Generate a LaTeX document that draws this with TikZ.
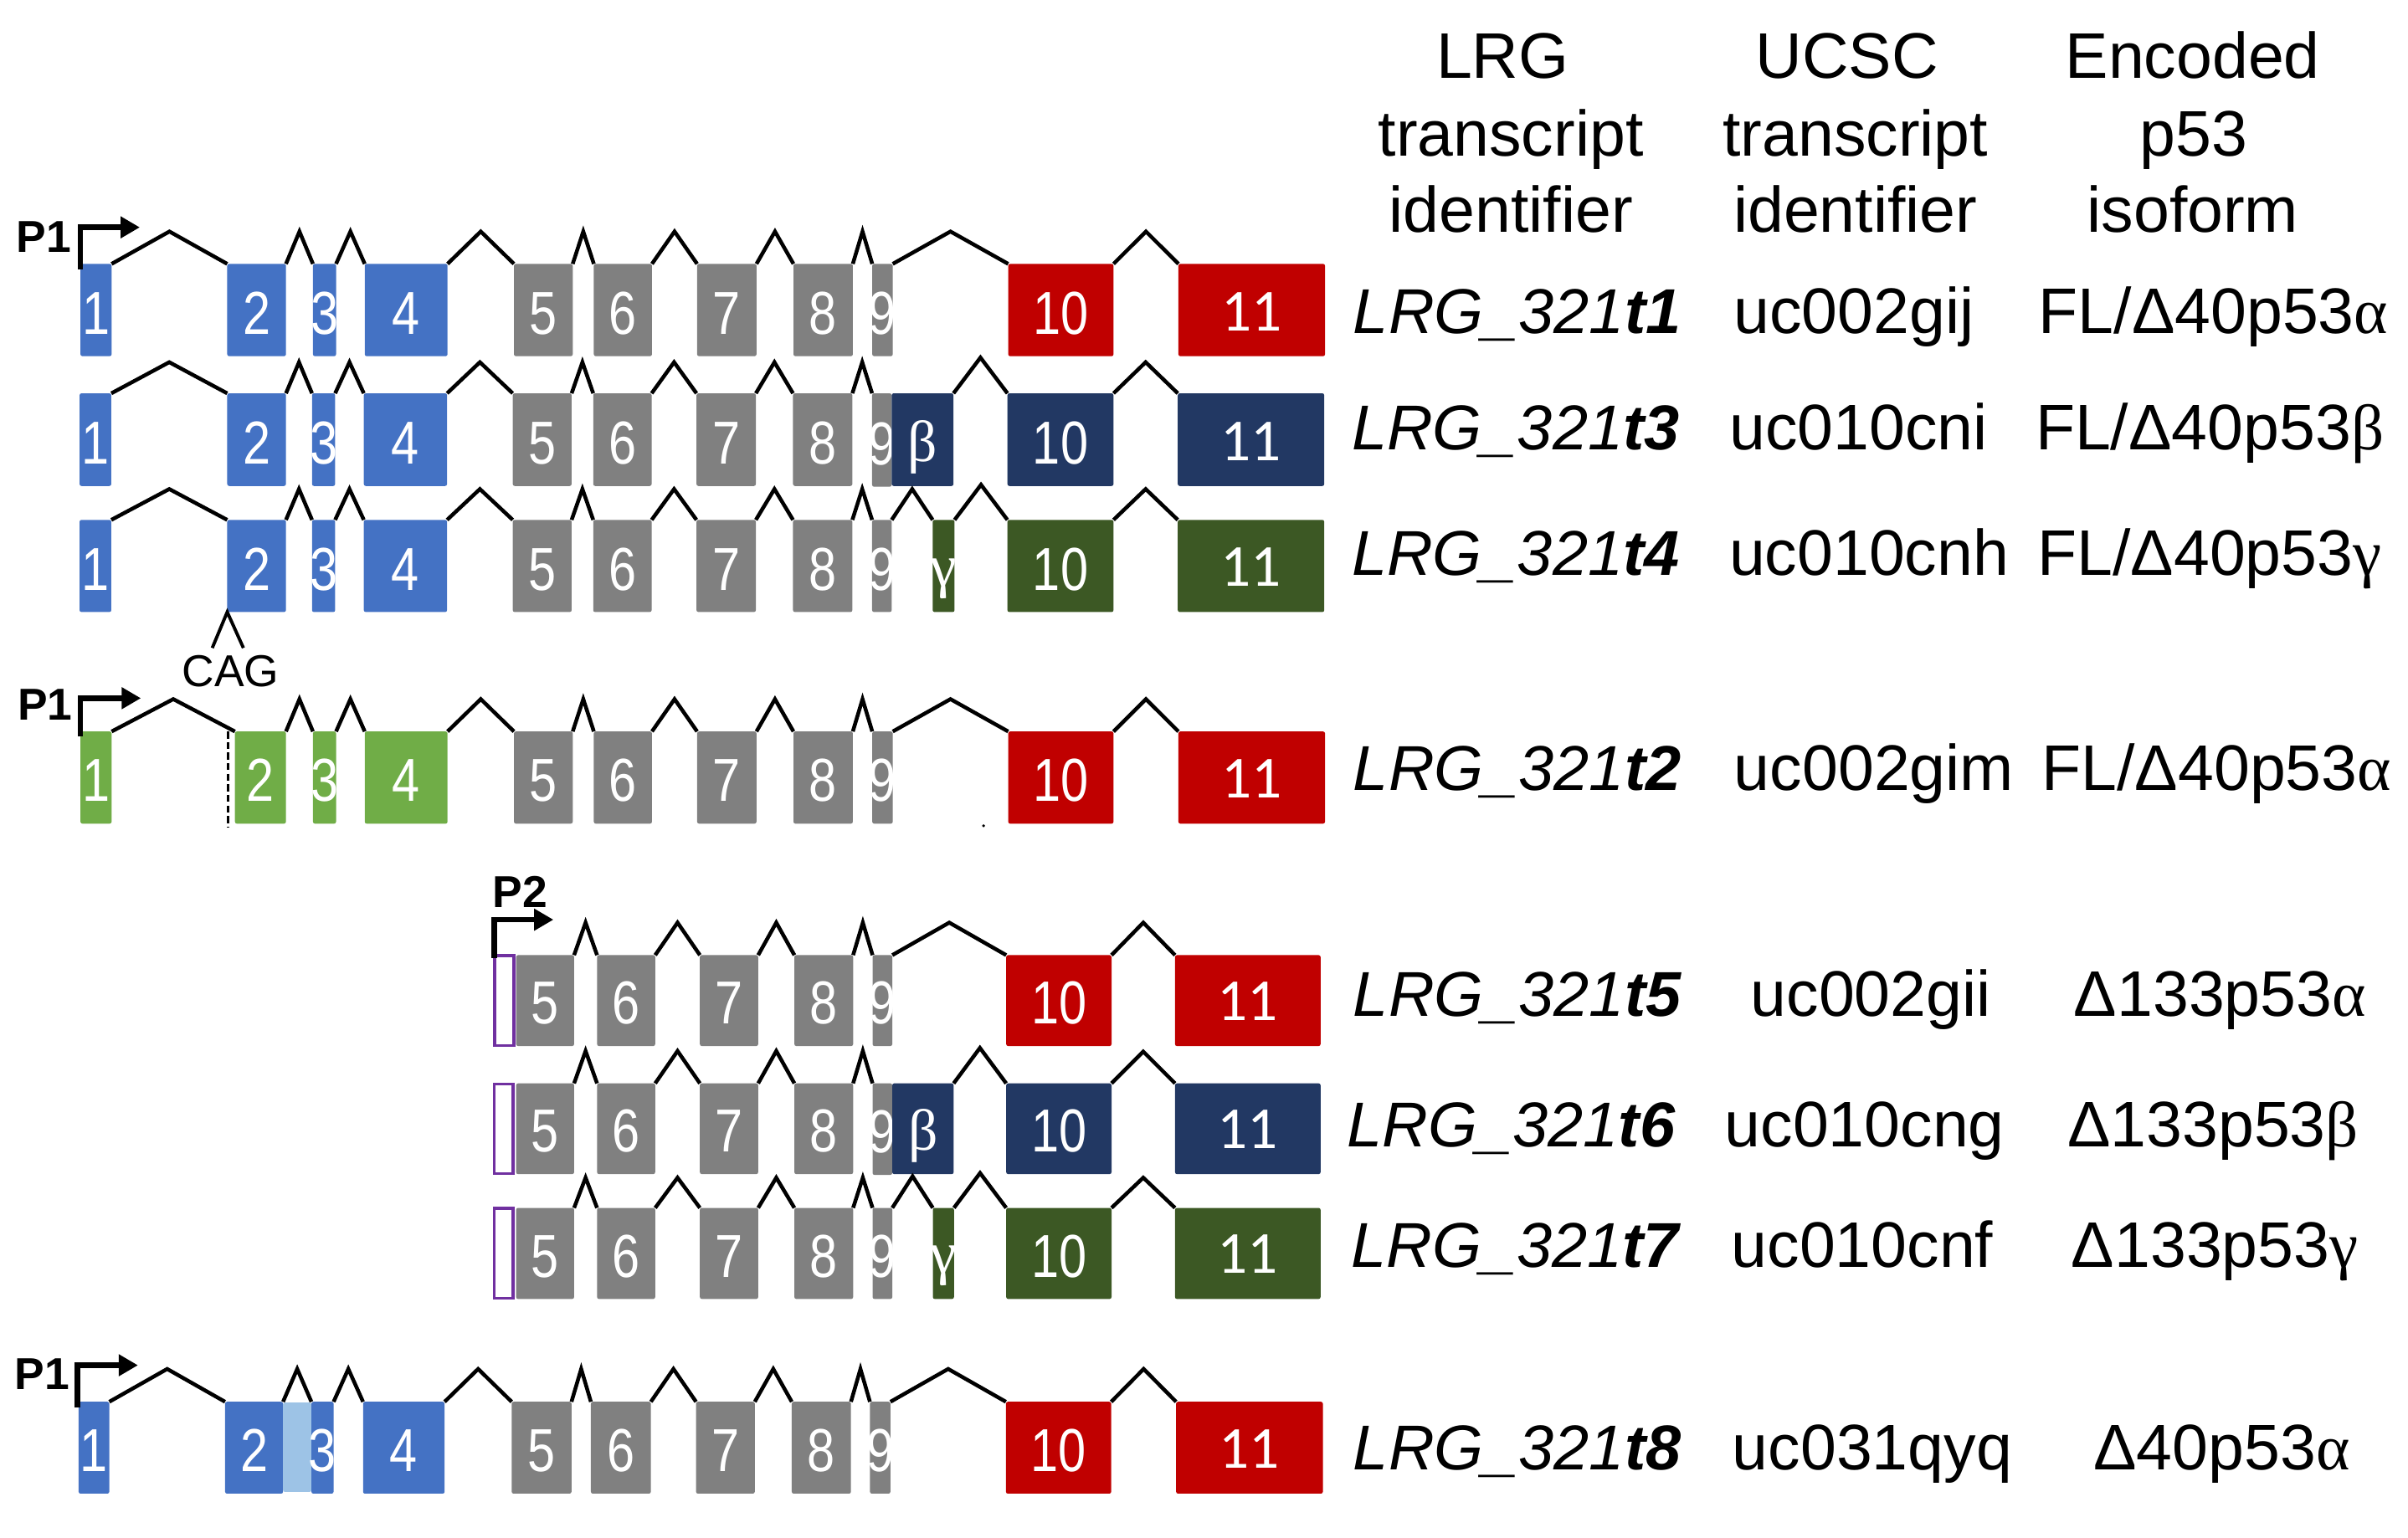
\documentclass[tikz,border=0pt]{standalone}
\usepackage{fontspec}
\setmainfont{Liberation Sans}
\newfontfamily\grk{Liberation Serif}
\newfontfamily\calib{Carlito}
\usepackage{graphicx}
\usetikzlibrary{calc,arrows.meta}
\definecolor{exblue}{HTML}{4472C4}
\definecolor{exgray}{HTML}{808080}
\definecolor{exred}{HTML}{C00000}
\definecolor{exnavy}{HTML}{223863}
\definecolor{exdkgreen}{HTML}{3C5824}
\definecolor{exltgreen}{HTML}{70AD47}
\definecolor{exltblue}{HTML}{9DC3E6}
\definecolor{p2purple}{HTML}{7030A0}
\newcommand\dg[1]{\scalebox{0.82}[1]{\fontsize{22.4}{24}\selectfont #1}}
\newcommand\elv{\raisebox{0.46mm}{\calib\fontsize{22}{24}\selectfont 11}}
\newcommand\gbeta{\raisebox{0.3mm}{\grk\fontsize{21.5}{24}\selectfont β}}
\newcommand\ggam{\raisebox{0.5mm}{\grk\fontsize{22}{24}\selectfont γ}}
% name, x1, x2, ytop, ybot, colour, label
\newcommand\exon[7]{%
  \node[exon,fill=#6,minimum width={(#3-#2)*0.2mm},minimum height={(#5-#4)*0.2mm}] (#1) at ({(#2+#3)/2},{(#4+#5)/2}) {};
  \node[exlab] (#1l) at ($(#1.south)+(0,-14.3)$) {#7};}
% from, to, rise
\newcommand\intron[3]{\draw[intr] (#1.north east) -- ($(#1.north east)!0.5!(#2.north west)+(0,-#3)$) -- (#2.north west);}
\begin{document}
\begin{tikzpicture}[x=0.2mm,y=-0.2mm,
  exon/.style={rectangle,inner sep=0pt,outer sep=0pt,rounded corners=0.25mm},
  exlab/.style={anchor=base,inner sep=0pt,text=white},
  intr/.style={line width=1.4pt,line join=miter,line cap=butt},
  prom/.style={line width=2pt,line join=miter,-{Triangle[length=2.5mm,width=2.7mm]}},
  ptext/.style={anchor=base,inner sep=0pt,font=\fontsize{16.5}{18}\selectfont\bfseries},
  coltext/.style={anchor=base,inner sep=0pt,font=\fontsize{23.8}{28}\selectfont},
  lrgtext/.style={anchor=base west,inner sep=0pt,font=\fontsize{23.4}{28}\selectfont\itshape},
  pbox/.style={rectangle,inner sep=0pt,outer sep=0pt,draw=p2purple,fill=white,line width=1.1pt}]
\useasboundingbox (0,0) rectangle (1562,997.4);

% ---------- header ----------
\node[coltext] (hdA1) at (974.7,50.6) {LRG};
\node[coltext] (hdA2) at (980,101.3) {transcript};
\node[coltext] (hdA3) at (980.2,150.6) {identifier};
\node[coltext] (hdB1) at (1198,50.6) {UCSC};
\node[coltext] (hdB2) at (1203.5,101.3) {transcript};
\node[coltext] (hdB3) at (1203.5,150.6) {identifier};
\node[coltext] (hdC1) at (1422.3,50.6) {Encoded};
\node[coltext] (hdC2) at (1423,101.3) {p53};
\node[coltext] (hdC3) at (1422.4,150.6) {isoform};

% ---------- row t1 ----------
\exon{a1}{52.2}{72.4}{171.2}{231.1}{exblue}{\dg{1}}
\exon{a2}{147.4}{185.5}{171.2}{231.1}{exblue}{\dg{2}}
\exon{a3}{203}{218}{171.2}{231.1}{exblue}{\dg{3}}
\exon{a4}{236.6}{290.3}{171.2}{231.1}{exblue}{\dg{4}}
\exon{a5}{333.4}{371.5}{171.2}{231.1}{exgray}{\dg{5}}
\exon{a6}{385.2}{422.9}{171.2}{231.1}{exgray}{\dg{6}}
\exon{a7}{452.2}{490.7}{171.2}{231.1}{exgray}{\dg{7}}
\exon{a8}{514.7}{553.2}{171.2}{231.1}{exgray}{\dg{8}}
\exon{a9}{565.8}{579.1}{171.2}{231.1}{exgray}{\dg{9}}
\exon{a10}{654}{722.3}{171.2}{231.1}{exred}{\dg{10}}
\exon{a11}{764.4}{859.5}{171.2}{231.1}{exred}{\elv}
\intron{a1}{a2}{21}\intron{a2}{a3}{21}\intron{a3}{a4}{21}\intron{a4}{a5}{21}
\intron{a5}{a6}{21}\intron{a6}{a7}{21}\intron{a7}{a8}{21}\intron{a8}{a9}{21}
\intron{a9}{a10}{21}\intron{a10}{a11}{21}
\draw[prom] ($(a1.north west)+(0,3.4)$) -- ++(0,-27.1) -- ++(38.5,0);
\node[ptext] (p1a) at (28.5,163.8) {P1};

% ---------- row t3 ----------
\exon{c1}{51.6}{72.2}{255.2}{315.3}{exblue}{\dg{1}}
\exon{c2}{147.4}{185.5}{255.2}{315.3}{exblue}{\dg{2}}
\exon{c3}{202.4}{217.4}{255.2}{315.3}{exblue}{\dg{3}}
\exon{c4}{236}{290}{255.2}{315.3}{exblue}{\dg{4}}
\exon{c5}{332.6}{370.8}{255.2}{315.3}{exgray}{\dg{5}}
\exon{c6}{384.8}{422.7}{255.2}{315.3}{exgray}{\dg{6}}
\exon{c7}{451.8}{490.3}{255.2}{315.3}{exgray}{\dg{7}}
\exon{c8}{514.4}{552.9}{255.2}{315.3}{exgray}{\dg{8}}
\exon{c9}{565.7}{578.4}{255.2}{315.8}{exgray}{\dg{9}}
\exon{cb}{578.4}{618.5}{255.2}{315.3}{exnavy}{\gbeta}
\exon{c10}{653.5}{722.3}{255.2}{315.3}{exnavy}{\dg{10}}
\exon{c11}{764}{859}{255.2}{315.3}{exnavy}{\elv}
\intron{c1}{c2}{20.2}\intron{c2}{c3}{20.2}\intron{c3}{c4}{20.2}\intron{c4}{c5}{20.2}
\intron{c5}{c6}{20.2}\intron{c6}{c7}{20.2}\intron{c7}{c8}{20.2}\intron{c8}{c9}{20.2}
\intron{cb}{c10}{23.2}\intron{c10}{c11}{20.2}

% ---------- row t4 ----------
\exon{d1}{51.6}{72.2}{337.3}{397.1}{exblue}{\dg{1}}
\exon{d2}{147.4}{185.5}{337.3}{397.1}{exblue}{\dg{2}}
\exon{d3}{202.4}{217.4}{337.3}{397.1}{exblue}{\dg{3}}
\exon{d4}{236}{290}{337.3}{397.1}{exblue}{\dg{4}}
\exon{d5}{332.6}{370.8}{337.3}{397.1}{exgray}{\dg{5}}
\exon{d6}{384.8}{422.7}{337.3}{397.1}{exgray}{\dg{6}}
\exon{d7}{451.8}{490.3}{337.3}{397.1}{exgray}{\dg{7}}
\exon{d8}{514.4}{552.9}{337.3}{397.1}{exgray}{\dg{8}}
\exon{d9}{565.7}{578.4}{337.3}{397.1}{exgray}{\dg{9}}
\exon{dg}{605}{619.2}{337.3}{397.1}{exdkgreen}{\ggam}
\exon{d10}{653.5}{722.3}{337.3}{397.1}{exdkgreen}{\dg{10}}
\exon{d11}{764}{859}{337.3}{397.1}{exdkgreen}{\elv}
\intron{d1}{d2}{20}\intron{d2}{d3}{20}\intron{d3}{d4}{20}\intron{d4}{d5}{20}
\intron{d5}{d6}{20}\intron{d6}{d7}{20}\intron{d7}{d8}{20}\intron{d8}{d9}{20}
\intron{d9}{dg}{20}\intron{dg}{d10}{22.8}\intron{d10}{d11}{20}
% CAG insertion mark
\draw[intr,line width=1.2pt] ($(d2.south west)+(-9.7,23.3)$) -- (d2.south west) -- ($(d2.south west)+(10.5,23.3)$);
\node[anchor=base,inner sep=0pt,font=\fontsize{16.5}{18}\selectfont] (cag) at (149.5,445.2) {CAG};

% ---------- row t2 ----------
\exon{b1}{52.2}{72.4}{474.6}{534.4}{exltgreen}{\dg{1}}
\exon{b2}{152.4}{185.5}{474.6}{534.4}{exltgreen}{\dg{2}}
\exon{b3}{203}{218}{474.6}{534.4}{exltgreen}{\dg{3}}
\exon{b4}{236.6}{290.3}{474.6}{534.4}{exltgreen}{\dg{4}}
\exon{b5}{333.4}{371.5}{474.6}{534.4}{exgray}{\dg{5}}
\exon{b6}{385.2}{422.9}{474.6}{534.4}{exgray}{\dg{6}}
\exon{b7}{452.2}{490.7}{474.6}{534.4}{exgray}{\dg{7}}
\exon{b8}{514.7}{553.2}{474.6}{534.4}{exgray}{\dg{8}}
\exon{b9}{565.8}{579.1}{474.6}{534.4}{exgray}{\dg{9}}
\exon{b10}{654}{722.3}{474.6}{534.4}{exred}{\dg{10}}
\exon{b11}{764.4}{859.5}{474.6}{534.4}{exred}{\elv}
\intron{b1}{b2}{21}\intron{b2}{b3}{21}\intron{b3}{b4}{21}\intron{b4}{b5}{21}
\intron{b5}{b6}{21}\intron{b6}{b7}{21}\intron{b7}{b8}{21}\intron{b8}{b9}{21}
\intron{b9}{b10}{21}\intron{b10}{b11}{21}
\draw[line width=1pt,dash pattern=on 2.6pt off 1.3pt] ($(b2.north west)+(-4.6,0)$) -- ($(b2.south west)+(-4.6,2.2)$);
\draw[prom] ($(b1.north west)+(0,3.2)$) -- ++(0,-24.8) -- ++(39.2,0);
\node[ptext] (p1b) at (29.2,467) {P1};
\fill (638,535.8) circle (1);

% ---------- row t5 ----------
\node[pbox,minimum width={12.4*0.2mm},minimum height={58.2*0.2mm}] (ep) at (327.1,649.2) {};
\exon{e5}{334.8}{372.4}{619.7}{678.7}{exgray}{\dg{5}}
\exon{e6}{387.3}{425}{619.7}{678.7}{exgray}{\dg{6}}
\exon{e7}{454}{491.8}{619.7}{678.7}{exgray}{\dg{7}}
\exon{e8}{515.3}{553.4}{619.7}{678.7}{exgray}{\dg{8}}
\exon{e9}{566}{578.8}{619.7}{678.7}{exgray}{\dg{9}}
\exon{e10}{652.7}{721}{619.7}{678.7}{exred}{\dg{10}}
\exon{e11}{762.2}{856.6}{619.7}{678.7}{exred}{\elv}
\intron{e5}{e6}{21.1}\intron{e6}{e7}{21.1}\intron{e7}{e8}{21.1}\intron{e8}{e9}{21.1}
\intron{e9}{e10}{21.1}\intron{e10}{e11}{21.1}
\draw[prom] ($(ep.north west)+(-0.4,1.3)$) -- ++(0,-24.7) -- ++(38.5,0);
\node[ptext] (p2) at (337.5,588.7) {P2};

% ---------- row t6 ----------
\node[pbox,minimum width={12.4*0.2mm},minimum height={58*0.2mm}] (fp) at (326.7,732.4) {};
\exon{f5}{334.8}{372.4}{702.9}{761.8}{exgray}{\dg{5}}
\exon{f6}{387.3}{425}{702.9}{761.8}{exgray}{\dg{6}}
\exon{f7}{454}{491.8}{702.9}{761.8}{exgray}{\dg{7}}
\exon{f8}{515.3}{553.4}{702.9}{761.8}{exgray}{\dg{8}}
\exon{f9}{566}{578.8}{702.9}{762.3}{exgray}{\dg{9}}
\exon{fb}{578.8}{618.6}{702.9}{761.8}{exnavy}{\gbeta}
\exon{f10}{652.7}{721}{702.9}{761.8}{exnavy}{\dg{10}}
\exon{f11}{762.2}{856.6}{702.9}{761.8}{exnavy}{\elv}
\intron{f5}{f6}{21}\intron{f6}{f7}{21}\intron{f7}{f8}{21}\intron{f8}{f9}{21}
\intron{fb}{f10}{23}\intron{f10}{f11}{20.6}

% ---------- row t7 ----------
\node[pbox,minimum width={12.4*0.2mm},minimum height={58.2*0.2mm}] (gp) at (326.7,813.2) {};
\exon{g5}{334.8}{372.4}{783.7}{842.8}{exgray}{\dg{5}}
\exon{g6}{387.3}{425}{783.7}{842.8}{exgray}{\dg{6}}
\exon{g7}{454}{491.8}{783.7}{842.8}{exgray}{\dg{7}}
\exon{g8}{515.3}{553.4}{783.7}{842.8}{exgray}{\dg{8}}
\exon{g9}{566}{578.8}{783.7}{842.8}{exgray}{\dg{9}}
\exon{gg}{605.1}{618.8}{783.7}{842.8}{exdkgreen}{\ggam}
\exon{g10}{652.7}{721}{783.7}{842.8}{exdkgreen}{\dg{10}}
\exon{g11}{762.2}{856.6}{783.7}{842.8}{exdkgreen}{\elv}
\intron{g5}{g6}{19.6}\intron{g6}{g7}{19.6}\intron{g7}{g8}{19.6}\intron{g8}{g9}{19.6}
\intron{g9}{gg}{20.5}\intron{gg}{g10}{22.6}\intron{g10}{g11}{19.6}

% ---------- row t8 ----------
\exon{h1}{51}{70.9}{909.5}{969.1}{exblue}{\dg{1}}
\exon{h2}{146}{183.6}{909.5}{969.1}{exblue}{\dg{2}}
\exon{hl}{183.6}{202}{910}{968}{exltblue}{}
\exon{h3}{202}{216.4}{909.5}{969.1}{exblue}{\dg{3}}
\exon{h4}{235.5}{288.4}{909.5}{969.1}{exblue}{\dg{4}}
\exon{h5}{331.9}{370.7}{909.5}{969.1}{exgray}{\dg{5}}
\exon{h6}{383.3}{422.2}{909.5}{969.1}{exgray}{\dg{6}}
\exon{h7}{451.5}{489.6}{909.5}{969.1}{exgray}{\dg{7}}
\exon{h8}{513.6}{552}{909.5}{969.1}{exgray}{\dg{8}}
\exon{h9}{564.3}{577.6}{909.5}{969.1}{exgray}{\dg{9}}
\exon{h10}{652.5}{720.8}{909.5}{969.1}{exred}{\dg{10}}
\exon{h11}{762.9}{858.1}{909.5}{969.1}{exred}{\elv}
\intron{h1}{h2}{21.3}\intron{h2}{h3}{21.3}\intron{h3}{h4}{21.3}\intron{h4}{h5}{21.3}
\intron{h5}{h6}{21.3}\intron{h6}{h7}{21.3}\intron{h7}{h8}{21.3}\intron{h8}{h9}{21.3}
\intron{h9}{h10}{21.3}\intron{h10}{h11}{21.3}
\draw[prom] ($(h1.north west)+(-0.7,3.5)$) -- ++(0,-27.2) -- ++(39.2,0);
\node[ptext] (p1c) at (27.3,901.7) {P1};

% ---------- identifier columns ----------
\node[lrgtext] (L1) at (877.5,216.6) {LRG\_321\textbf{t1}};
\node[coltext] (U1) at (1202.5,216.6) {uc002gij};
\node[coltext] (I1) at (1435.7,216.6) {FL/Δ40p53{\grk α}};

\node[lrgtext] (L3) at (876.5,291.9) {LRG\_321\textbf{t3}};
\node[coltext] (U3) at (1205.7,291.9) {uc010cni};
\node[coltext] (I3) at (1433.4,291.9) {FL/Δ40p53{\grk β}};

\node[lrgtext] (L4) at (876.5,373.5) {LRG\_321\textbf{t4}};
\node[coltext] (U4) at (1212.4,373.5) {uc010cnh};
\node[coltext] (I4) at (1433.3,373.5) {FL/Δ40p53{\grk γ}};

\node[lrgtext] (L2) at (877.5,513) {LRG\_321\textbf{t2}};
\node[coltext] (U2) at (1215.6,513) {uc002gim};
\node[coltext] (I2) at (1437.8,513) {FL/Δ40p53{\grk α}};

\node[lrgtext] (L5) at (877.5,659.6) {LRG\_321\textbf{t5}};
\node[coltext] (U5) at (1213.5,659.6) {uc002gii};
\node[coltext] (I5) at (1440,659.6) {Δ133p53{\grk α}};

\node[lrgtext] (L6) at (873.6,743.8) {LRG\_321\textbf{t6}};
\node[coltext] (U6) at (1209.5,743.8) {uc010cng};
\node[coltext] (I6) at (1435.6,743.8) {Δ133p53{\grk β}};

\node[lrgtext] (L7) at (876.2,822.5) {LRG\_321\textbf{t7}};
\node[coltext] (U7) at (1208,822.5) {uc010cnf};
\node[coltext] (I7) at (1436.7,822.5) {Δ133p53{\grk γ}};

\node[lrgtext] (L8) at (877.5,953.7) {LRG\_321\textbf{t8}};
\node[coltext] (U8) at (1214.5,953.7) {uc031qyq};
\node[coltext] (I8) at (1441.1,953.7) {Δ40p53{\grk α}};
\end{tikzpicture}
\end{document}
